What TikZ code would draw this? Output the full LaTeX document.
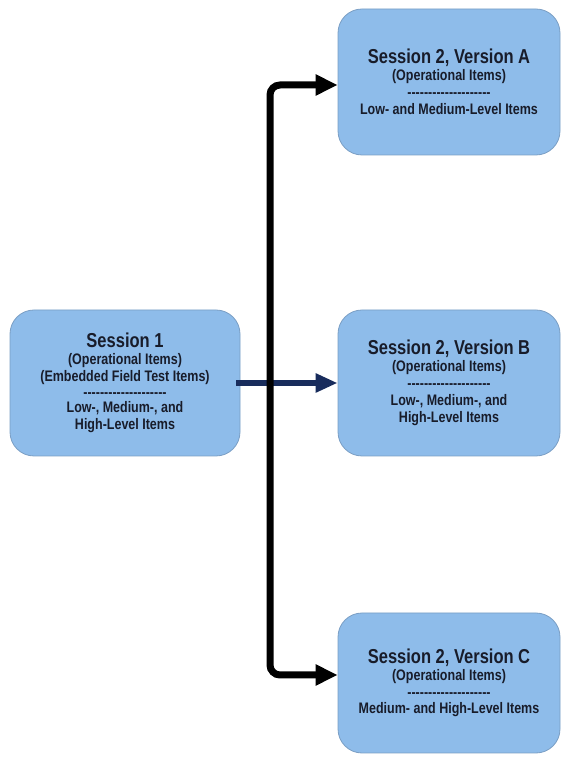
\documentclass[tikz,border=0pt]{standalone}
\usepackage{graphicx}
\usepackage{fontspec}
\setmainfont{Liberation Sans}[Ligatures=TeXOff]
\usetikzlibrary{arrows.meta}

\definecolor{boxblue}{RGB}{142,188,234}
\definecolor{boxedge}{RGB}{122,158,196}
\definecolor{inkdark}{RGB}{24,28,42}
\definecolor{navyline}{RGB}{24,44,92}

\tikzset{
  session/.style={draw=boxedge, line width=0.8pt, fill=boxblue, rounded corners=24pt,
    minimum width=222pt, minimum height=146pt, inner sep=0pt, align=center,
    text=inkdark, font=\bfseries\fontsize{12.5}{17}\selectfont},
  feed/.style={line width=7pt, rounded corners=10pt,
    {Triangle[length=22pt,width=20pt]}-{Triangle[length=22pt,width=20pt]}},
}
% text in the boxes is set a little taller than wide
\newcommand{\tline}[1]{\scalebox{1}[1.22]{#1}}
\newcommand{\sesshead}[1]{{\fontsize{16.5}{17}\selectfont\tline{#1}}}
\newcommand{\dashrow}{\tline{--------------------}}

\begin{document}
\begin{tikzpicture}[x=1pt,y=1pt]
\useasboundingbox (0,0) rectangle (561,757);

\node[session, minimum width=230pt] (s1) at (125,374)
  {\sesshead{Session 1}\\ \tline{(Operational Items)}\\ \tline{(Embedded Field Test Items)}\\[-1pt]
   \dashrow\\[-2pt] \tline{Low-, Medium-, and}\\ \tline{High-Level Items}};

\node[session] (s2a) at (449,675)
  {\sesshead{Session 2, Version A}\\ \tline{(Operational Items)}\\[0pt] \dashrow\\[-0.5pt]
   \tline{Low- and Medium-Level Items}};
\node[session] (s2b) at (449,374)
  {\sesshead{Session 2, Version B}\\ \tline{(Operational Items)}\\[0pt] \dashrow\\[-0.5pt]
   \tline{Low-, Medium-, and}\\ \tline{High-Level Items}};
\node[session, minimum height=140pt] (s2c) at (449,74)
  {\sesshead{Session 2, Version C}\\ \tline{(Operational Items)}\\[0pt] \dashrow\\[-0.5pt]
   \tline{Medium- and High-Level Items}};

% session 1 into version B
\draw[navyline, line width=6pt, -{Triangle[length=22pt,width=18pt]}]
  ([xshift=-4pt]s1.east) -- (s2b.west);

% trunk feeding versions A and C
\coordinate (trunk) at (270,374);
\draw[feed] ([yshift=-3pt]s2a.west) -| (trunk) |- ([yshift=8pt]s2c.west);

\end{tikzpicture}
\end{document}
